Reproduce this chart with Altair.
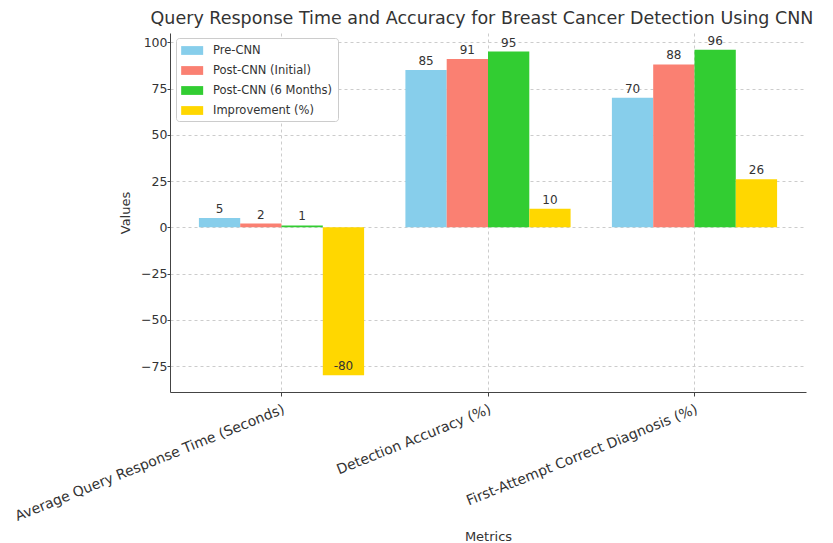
import altair as alt
import pandas as pd

metrics = [
    "Average Query Response Time (Seconds)",
    "Detection Accuracy (%)",
    "First-Attempt Correct Diagnosis (%)",
]
series = ["Pre-CNN", "Post-CNN (Initial)", "Post-CNN (6 Months)", "Improvement (%)"]
pre_cnn = [5, 85, 70]
post_initial = [2, 91, 88]
post_6m = [1, 95, 96]
improvement = [-80, 10, 26]
colors = ["#87CEEB", "#FA8072", "#32CD32", "#FFD700"]
y_ticks = [-75, -50, -25, 0, 25, 50, 75, 100]

rows = []
for s, vals in zip(series, [pre_cnn, post_initial, post_6m, improvement]):
    for m, v in zip(metrics, vals):
        rows.append({"Metric": m, "Series": s, "Value": v, "Label": str(v)})
df = pd.DataFrame(rows)

FONT = "DejaVu Sans"
TXT = "#333333"

x = alt.X(
    "Metric:N",
    sort=metrics,
    title="Metrics",
    scale=alt.Scale(paddingInner=0.2, paddingOuter=0.14),
    axis=alt.Axis(
        labelAngle=-22,
        labelAlign="right",
        labelBaseline="top",
        labelFontSize=14,
        labelLimit=500,
        labelColor=TXT,
        titleFontSize=13,
        titleColor=TXT,
        titleFontWeight="normal",
        titlePadding=7,
        grid=True,
        gridDash=[3, 3],
        gridColor="#cccccc",
        bandPosition=0.5,
        domainColor="#444444",
        tickColor="#444444",
        tickSize=4,
        labelPadding=6,
    ),
)
xo = alt.XOffset("Series:N", sort=series, scale=alt.Scale(paddingInner=0, paddingOuter=0))
y = alt.Y(
    "Value:Q",
    title="Values",
    scale=alt.Scale(domain=[-89, 105], nice=False, zero=False),
    axis=alt.Axis(
        values=y_ticks,
        format="d",
        labelFontSize=12.5,
        labelColor=TXT,
        titleFontSize=13,
        titleColor=TXT,
        titleFontWeight="normal",
        titlePadding=8,
        grid=True,
        gridDash=[3, 3],
        gridColor="#cccccc",
        domainColor="#444444",
        tickColor="#444444",
        tickSize=3,
        labelPadding=0,
    ),
)
color = alt.Color(
    "Series:N",
    sort=series,
    scale=alt.Scale(domain=series, range=colors),
    legend=alt.Legend(
        title=None,
        orient="none",
        legendX=6,
        legendY=5,
        symbolType="M-1,-0.6H2V0.6H-1Z",
        symbolSize=215,
        symbolStrokeWidth=0,
        labelFontSize=11.5,
        labelColor=TXT,
        labelOffset=17,
        rowPadding=7,
        padding=5,
        strokeColor="#cccccc",
        fillColor="white",
        cornerRadius=3,
    ),
)

bars = alt.Chart(df).mark_bar().encode(x=x, xOffset=xo, y=y, color=color)
labels = alt.Chart(df).mark_text(
    baseline="bottom", dy=-2, fontSize=12, color=TXT, font=FONT
).encode(x=x, xOffset=xo, y=y, text="Label:N")

chart = (
    alt.layer(bars, labels)
    .properties(
        width=636,
        height=359,
        title=alt.TitleParams(
            "Query Response Time and Accuracy for Breast Cancer Detection Using CNN",
            fontSize=17.5,
            fontWeight="normal",
            color=TXT,
            font=FONT,
            anchor="middle",
            dx=-6,
            offset=6,
        ),
        padding={"left": 4, "top": 1, "right": 0, "bottom": 2},
    )
    .configure(font=FONT)
    .configure_view(stroke=None)
)

chart.save("out.html", embed_options={"renderer": "svg", "actions": False})
